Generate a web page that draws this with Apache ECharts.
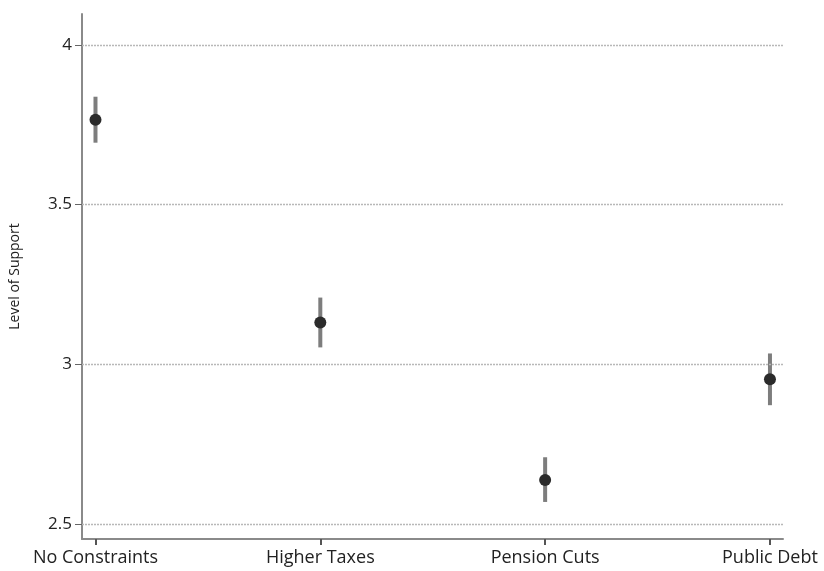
<!DOCTYPE html>
<html>
<head>
<meta charset="utf-8">
<style>
  html, body { margin: 0; padding: 0; background: #fff; }
  #chart { width: 824px; height: 571px; }
</style>
<script src="https://cdn.jsdelivr.net/npm/echarts@6/dist/echarts.min.js"></script>
</head>
<body>
<div id="chart"></div>
<script>
// Conditions and estimated mean support with 95% interval bounds
const categories = ['No Constraints', 'Higher Taxes', 'Pension Cuts', 'Public Debt'];
const means = [3.766, 3.131, 2.638, 2.953];
const lower = [3.694, 3.053, 2.569, 2.872];
const upper = [3.838, 3.209, 2.709, 3.034];
const yTicks = [2.5, 3, 3.5, 4];

const FONT = 'Open Sans';
const chart = echarts.init(document.getElementById('chart'));

const pointData = means.map((m, i) => [i, m]);
const barData = means.map((m, i) => [i, lower[i], upper[i]]);

chart.setOption({
  animation: false,
  backgroundColor: '#fff',
  grid: { left: 82, right: 41, top: 14, bottom: 32 },
  xAxis: {
    type: 'value',
    min: -0.06,
    max: 3.058,
    axisLine: { show: true, onZero: false, lineStyle: { color: '#8a8a8a', width: 2 } },
    axisTick: { show: true, customValues: [0, 1, 2, 3], length: 6, lineStyle: { color: '#555', width: 2 } },
    axisLabel: {
      customValues: [0, 1, 2, 3],
      formatter: v => categories[Math.round(v)],
      color: '#222', fontFamily: FONT, fontSize: 18, margin: 10
    },
    splitLine: { show: false }
  },
  yAxis: {
    type: 'value',
    min: 2.453,
    max: 4.097,
    name: 'Level of Support',
    nameLocation: 'middle',
    nameGap: 60,
    nameTextStyle: { color: '#222', fontFamily: FONT, fontSize: 14 },
    axisLine: { show: true, onZero: false, lineStyle: { color: '#8a8a8a', width: 2 } },
    axisTick: { show: true, customValues: yTicks, length: 7, lineStyle: { color: '#666', width: 1 } },
    axisLabel: {
      customValues: yTicks,
      formatter: v => String(v),
      color: '#222', fontFamily: FONT, fontSize: 17, margin: 10
    },
    splitLine: { show: false }
  },
  series: [
    {
      // horizontal reference lines at each labelled level
      type: 'line',
      data: [],
      silent: true,
      markLine: {
        silent: true,
        symbol: 'none',
        label: { show: false },
        lineStyle: { color: '#b8b8b8', type: [2, 1], width: 1.3 },
        data: yTicks.map(v => ({ yAxis: v }))
      }
    },
    {
      // confidence interval bars
      type: 'custom',
      data: barData,
      silent: true,
      renderItem: (params, api) => {
        const x = api.value(0);
        const p1 = api.coord([x, api.value(1)]);
        const p2 = api.coord([x, api.value(2)]);
        return {
          type: 'line',
          shape: { x1: p1[0], y1: p1[1], x2: p2[0], y2: p2[1] },
          style: { stroke: '#7d7d7d', lineWidth: 4 }
        };
      },
      encode: { x: 0, y: [1, 2] },
      z: 2
    },
    {
      type: 'scatter',
      data: pointData,
      symbol: 'circle',
      symbolSize: 12,
      itemStyle: { color: '#2b2b2b', opacity: 1 },
      z: 3
    }
  ]
});
</script>
</body>
</html>
